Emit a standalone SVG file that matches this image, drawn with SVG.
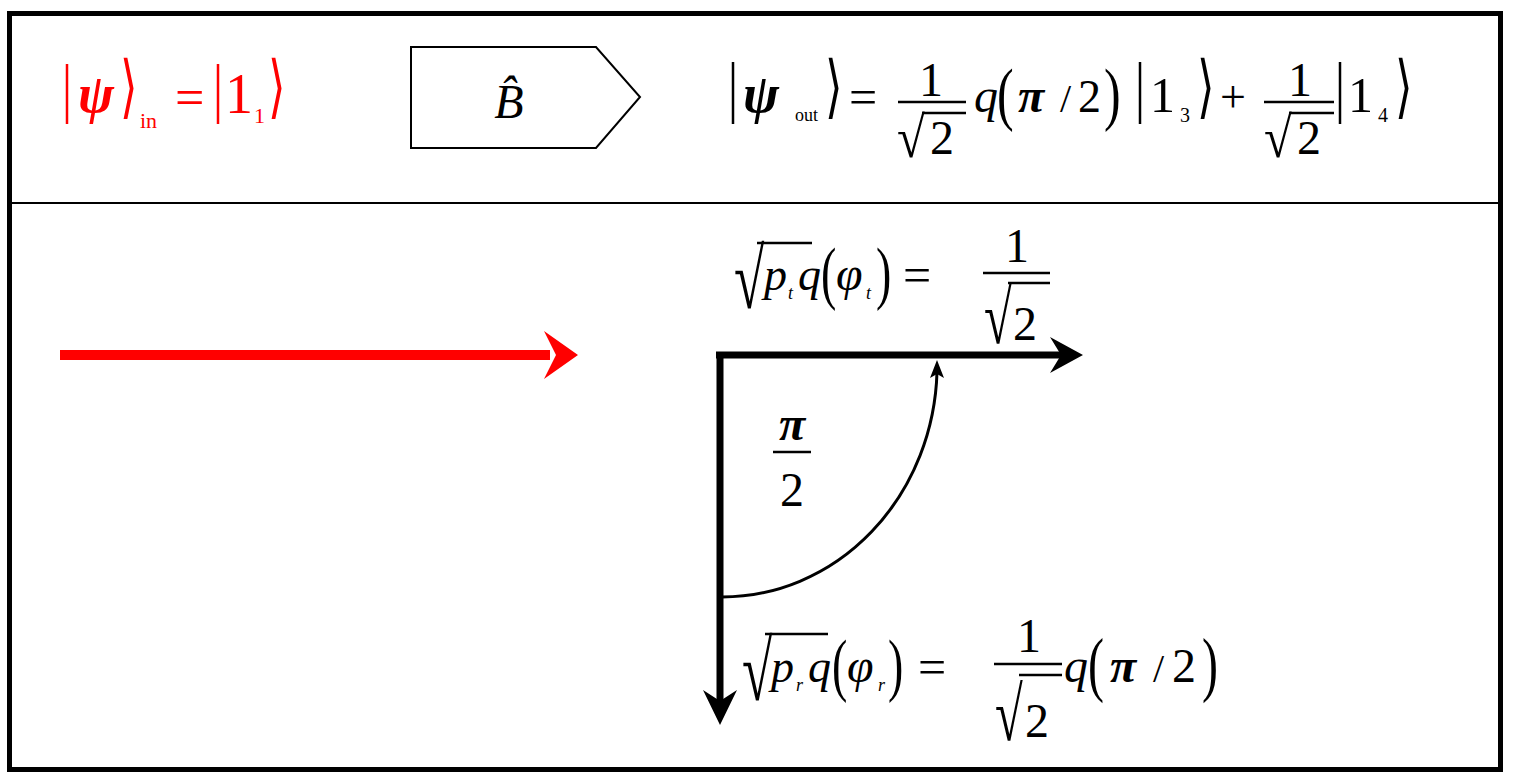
<svg xmlns="http://www.w3.org/2000/svg" width="1515" height="781" viewBox="0 0 1515 781">
<style>
.m{font-family:"Liberation Serif","DejaVu Serif",serif;fill:#000}
.i{font-style:italic}
.b{font-weight:bold}
.d{font-family:"DejaVu Sans","Liberation Serif",sans-serif}
.red{fill:#ff0000}
.bar{stroke:#000;stroke-width:2.5}
.rbar{stroke:#ff0000;stroke-width:2.5}
</style>
<rect x="0" y="0" width="1515" height="781" fill="#fff"/>
<rect id="frame" x="9.5" y="13.5" width="1491" height="756" fill="none" stroke="#000" stroke-width="5"/>
<line id="divider" x1="12" y1="203" x2="1499" y2="203" stroke="#000" stroke-width="2"/>

<g id="input-state">
<line class="rbar" x1="67" y1="64" x2="67" y2="124"/>
<text class="m i b red" x="78" y="112" font-size="54">ψ</text>
<text class="d red" transform="translate(120,110) scale(1.5,2.3)" font-size="30">⟩</text>
<text class="m red" x="140" y="128" font-size="22">in</text>
<text class="m red" x="175" y="115" font-size="52">=</text>
<line class="rbar" x1="218" y1="64" x2="218" y2="124"/>
<text class="m red" x="225" y="113" font-size="56">1</text>
<text class="m red" x="254" y="123" font-size="22">1</text>
<text class="d red" transform="translate(268,110) scale(1.5,2.3)" font-size="30">⟩</text>
</g>

<g id="operator-B">
<path d="M411,47 H596 L640,97 L596,148 H411 Z" fill="none" stroke="#000" stroke-width="2"/>
<text class="m i" x="509" y="118" font-size="48" text-anchor="middle">B̂</text>
</g>

<g id="output-state">
<line class="bar" x1="733" y1="62" x2="733" y2="124"/>
<text class="m i b" x="743" y="112" font-size="54">ψ</text>
<text class="m" x="795" y="121" font-size="18">out</text>
<text class="d" transform="translate(825,110) scale(1.5,2.3)" font-size="30">⟩</text>
<text class="m" x="849" y="114" font-size="50">=</text>
<text class="m" x="931" y="96" font-size="48" text-anchor="middle">1</text>
<line class="bar" x1="898" y1="102" x2="966" y2="102"/>
<text class="m" transform="translate(897,157) scale(1.1,1.25)" font-size="46">√</text>
<line class="bar" x1="922" y1="113" x2="966" y2="113"/>
<text class="m" x="930" y="154" font-size="48">2</text>
<text class="m i" x="974" y="112" font-size="48">q</text>
<text class="m" transform="translate(997,117) scale(1,1.4)" font-size="50">(</text>
<text class="m i b" x="1018" y="112" font-size="48">π</text>
<text class="m" x="1060" y="112" font-size="40">/</text>
<text class="m" x="1078" y="112" font-size="46">2</text>
<text class="m" transform="translate(1104,117) scale(1,1.4)" font-size="50">)</text>
<line class="bar" x1="1140" y1="62" x2="1140" y2="124"/>
<text class="m" x="1150" y="112" font-size="50">1</text>
<text class="m" x="1180" y="122" font-size="20">3</text>
<text class="d" transform="translate(1197,110) scale(1.5,2.3)" font-size="30">⟩</text>
<text class="m" x="1220" y="112" font-size="46">+</text>
<text class="m" x="1300" y="96" font-size="48" text-anchor="middle">1</text>
<line class="bar" x1="1264" y1="102" x2="1334" y2="102"/>
<text class="m" transform="translate(1264,157) scale(1.1,1.25)" font-size="46">√</text>
<line class="bar" x1="1289" y1="113" x2="1334" y2="113"/>
<text class="m" x="1297" y="154" font-size="48">2</text>
<line class="bar" x1="1340" y1="62" x2="1340" y2="124"/>
<text class="m" x="1348" y="112" font-size="50">1</text>
<text class="m" x="1378" y="122" font-size="20">4</text>
<text class="d" transform="translate(1395,110) scale(1.5,2.3)" font-size="30">⟩</text>
</g>

<g id="connectors">
<g id="input-beam">
<line x1="60" y1="355" x2="550" y2="355" stroke="#ff0000" stroke-width="10"/>
<path d="M578,355 L544,331 L556,355 L544,379 Z" fill="#ff0000"/>
</g>
<g id="transmitted-beam">
<line x1="716" y1="355" x2="1068" y2="355" stroke="#000" stroke-width="7"/>
<path d="M1083,355 L1050,337 L1061,355 L1050,373 Z" fill="#000"/>
</g>
<g id="reflected-beam">
<line x1="720" y1="352" x2="720" y2="705" stroke="#000" stroke-width="7"/>
<path d="M720,725 L703,690 L720,701 L737,690 Z" fill="#000"/>
</g>
<g id="phase-arc">
<path d="M722,597 A215,232 0 0 0 937,372" fill="none" stroke="#000" stroke-width="3"/>
<path d="M937,360 L930,378 L937,374 L944,378 Z" fill="#000"/>
</g>
</g>

<g id="label-transmitted">
<text class="m" transform="translate(734,308) scale(1.2,1.85)" font-size="46">√</text>
<line class="bar" x1="757" y1="243" x2="812" y2="243"/>
<text class="m i" x="764" y="290" font-size="46">p</text>
<text class="m i" x="788" y="299" font-size="18">t</text>
<text class="m i" x="798" y="290" font-size="46">q</text>
<text class="m" transform="translate(821,296) scale(1,1.5)" font-size="46">(</text>
<text class="m i" x="836" y="290" font-size="48">φ</text>
<text class="m i" x="866" y="299" font-size="18">t</text>
<text class="m" transform="translate(876,296) scale(1,1.5)" font-size="46">)</text>
<text class="m" x="903" y="292" font-size="50">=</text>
<text class="m" x="1017" y="262" font-size="48" text-anchor="middle">1</text>
<line class="bar" x1="983" y1="273" x2="1050" y2="273"/>
<text class="m" transform="translate(984,343) scale(1.1,1.65)" font-size="46">√</text>
<line class="bar" x1="1008" y1="283" x2="1050" y2="283"/>
<text class="m" x="1013" y="340" font-size="48">2</text>
</g>

<g id="label-angle">
<text class="m i b" x="792" y="440" font-size="48" text-anchor="middle">π</text>
<line class="bar" x1="773" y1="452" x2="811" y2="452"/>
<text class="m" x="792" y="506" font-size="48" text-anchor="middle">2</text>
</g>

<g id="label-reflected">
<text class="m" transform="translate(742,700) scale(1.2,1.85)" font-size="46">√</text>
<line class="bar" x1="765" y1="634" x2="828" y2="634"/>
<text class="m i" x="771" y="682" font-size="46">p</text>
<text class="m i" x="796" y="691" font-size="18">r</text>
<text class="m i" x="808" y="682" font-size="46">q</text>
<text class="m" transform="translate(832,688) scale(1,1.5)" font-size="46">(</text>
<text class="m i" x="847" y="682" font-size="48">φ</text>
<text class="m i" x="878" y="691" font-size="18">r</text>
<text class="m" transform="translate(888,688) scale(1,1.5)" font-size="46">)</text>
<text class="m" x="918" y="684" font-size="50">=</text>
<text class="m" x="1029" y="652" font-size="48" text-anchor="middle">1</text>
<line class="bar" x1="994" y1="664" x2="1062" y2="664"/>
<text class="m" transform="translate(995,740) scale(1.1,1.65)" font-size="46">√</text>
<line class="bar" x1="1019" y1="675" x2="1062" y2="675"/>
<text class="m" x="1025" y="737" font-size="48">2</text>
<text class="m i" x="1064" y="682" font-size="48">q</text>
<text class="m" transform="translate(1088,688) scale(1,1.5)" font-size="48">(</text>
<text class="m i b" x="1110" y="682" font-size="48">π</text>
<text class="m" x="1153" y="682" font-size="40">/</text>
<text class="m" x="1172" y="682" font-size="48">2</text>
<text class="m" transform="translate(1202,688) scale(1,1.5)" font-size="48">)</text>
</g>
</svg>
